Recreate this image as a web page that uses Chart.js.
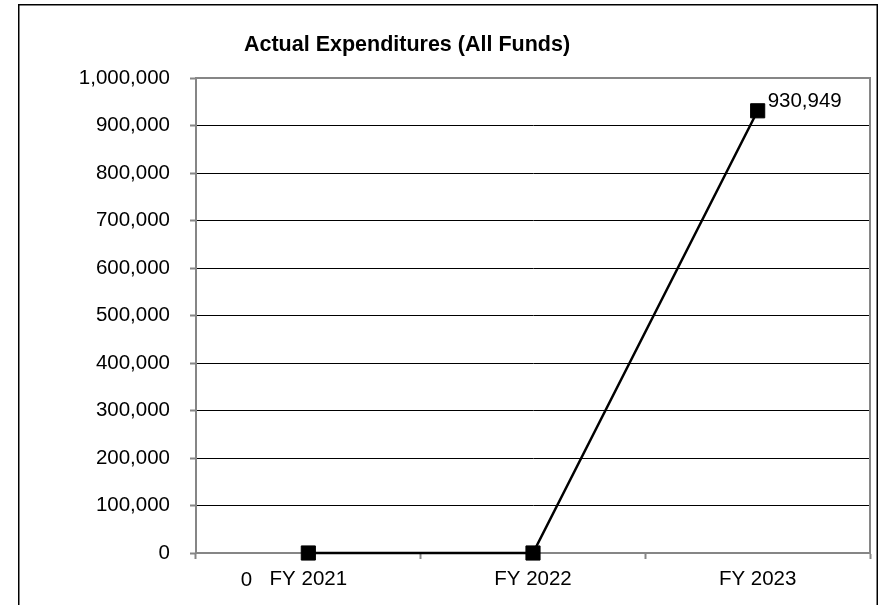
<!DOCTYPE html>
<html>
<head>
<meta charset="utf-8">
<script src="https://cdn.jsdelivr.net/npm/chart.js@4"></script>
<style>
  html, body { margin: 0; padding: 0; background: #ffffff; }
  #wrap { width: 886px; height: 605px; position: relative; }
</style>
</head>
<body>
<div id="wrap"><canvas id="c" width="886" height="605"></canvas></div>
<script>
const chartTitle = 'Actual Expenditures (All Funds)';
const categories = ['FY 2021', 'FY 2022', 'FY 2023'];
const expenditures = [0, 0, 930949];
const shownLabels = [true, false, true];
const yMin = 0;
const yMax = 1000000;
const yStep = 100000;

const FONT = '"Liberation Sans", Arial, Helvetica, sans-serif';
const GREY = '#868686';

const fmt = v => Number(v).toLocaleString('en-US');

const decorPlugin = {
  id: 'decor',
  afterDraw(chart) {
    const ctx = chart.ctx;
    const a = chart.chartArea;
    ctx.save();
    // plot area top/right border
    ctx.strokeStyle = GREY;
    ctx.lineWidth = 2;
    ctx.beginPath();
    ctx.moveTo(a.left, a.top);
    ctx.lineTo(a.right, a.top);
    ctx.lineTo(a.right, a.bottom);
    ctx.stroke();
    // outer chart border
    ctx.strokeStyle = '#000000';
    ctx.lineWidth = 1.5;
    ctx.strokeRect(18.75, 4.75, 858.5, 610);
    // title
    ctx.fillStyle = '#000000';
    ctx.font = 'bold 21.5px ' + FONT;
    ctx.textAlign = 'center';
    ctx.textBaseline = 'alphabetic';
    ctx.fillText(chartTitle, 407, 51);
    // data labels
    ctx.font = '20.5px ' + FONT;
    const meta = chart.getDatasetMeta(0);
    meta.data.forEach((pt, i) => {
      if (!shownLabels[i]) return;
      const txt = fmt(expenditures[i]);
      ctx.textBaseline = 'middle';
      if (expenditures[i] === 0) {
        ctx.textAlign = 'center';
        ctx.fillText(txt, pt.x - 62, pt.y + 27);
      } else {
        ctx.textAlign = 'left';
        ctx.fillText(txt, pt.x + 10, pt.y - 9);
      }
    });
    ctx.restore();
  }
};

new Chart(document.getElementById('c'), {
  type: 'line',
  data: {
    labels: categories,
    datasets: [{
      data: expenditures,
      borderColor: '#000000',
      borderWidth: 2.5,
      backgroundColor: '#000000',
      pointStyle: 'rect',
      pointRadius: 10,
      pointBorderWidth: 1,
      pointBorderColor: '#000000',
      pointBackgroundColor: '#000000',
      tension: 0,
      clip: false
    }]
  },
  options: {
    responsive: false,
    animation: false,
    devicePixelRatio: 1,
    layout: { padding: { left: 0, top: 78, right: 16, bottom: 0 } },
    plugins: {
      legend: { display: false },
      title: { display: false },
      tooltip: { enabled: false }
    },
    scales: {
      x: {
        type: 'category',
        offset: true,
        grid: {
          display: true,
          offset: true,
          drawOnChartArea: false,
          drawTicks: true,
          tickLength: 6,
          tickColor: GREY,
          tickWidth: 2
        },
        border: { display: true, color: GREY, width: 2 },
        ticks: {
          color: '#000000',
          font: { family: FONT, size: 20.5 },
          padding: 8,
          maxRotation: 0,
          autoSkip: false
        },
        afterFit(scale) { scale.height = 52; }
      },
      y: {
        min: yMin,
        max: yMax,
        grid: {
          color: ctx => (ctx.tick && (ctx.tick.value === yMin || ctx.tick.value === yMax)) ? 'rgba(0,0,0,0)' : '#000000',
          lineWidth: 1,
          drawTicks: true,
          tickLength: 6,
          tickColor: GREY,
          tickWidth: 2
        },
        border: { display: true, color: GREY, width: 2 },
        ticks: {
          stepSize: yStep,
          color: '#000000',
          font: { family: FONT, size: 20.5 },
          padding: 20,
          callback: v => fmt(v)
        },
        afterFit(scale) { scale.width = 196; }
      }
    }
  },
  plugins: [decorPlugin]
});
</script>
</body>
</html>
